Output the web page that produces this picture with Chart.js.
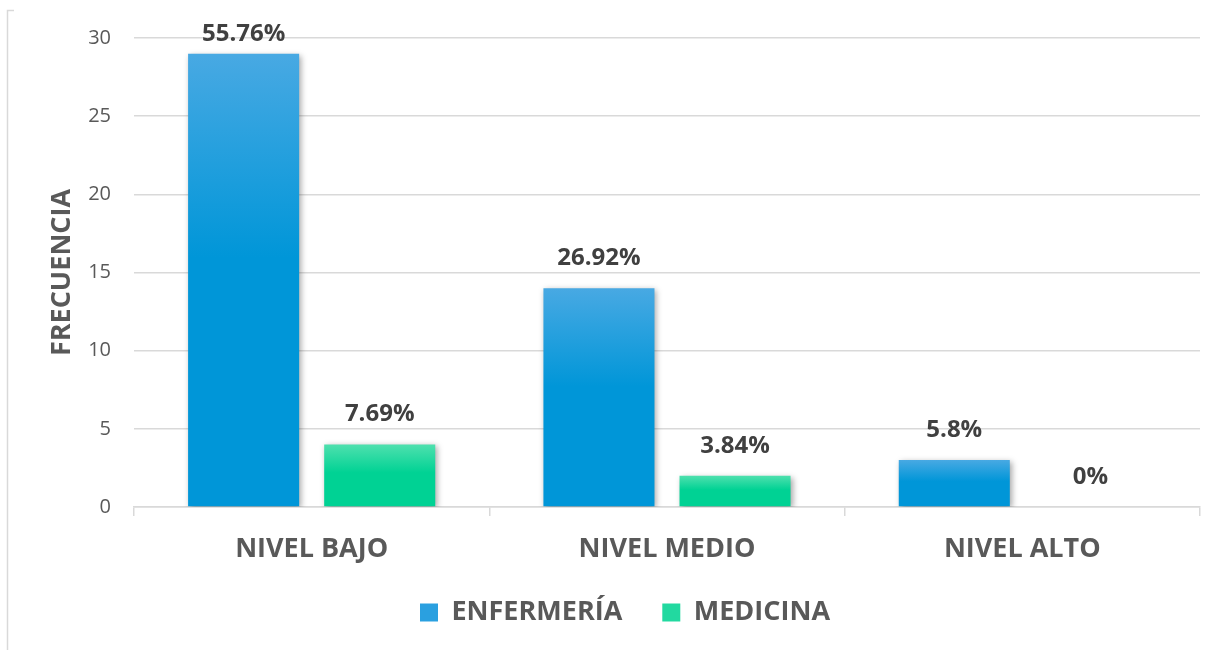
<!DOCTYPE html>
<html>
<head>
<meta charset="utf-8">
<script src="https://cdn.jsdelivr.net/npm/chart.js@4"></script>
<style>
  html, body { margin: 0; padding: 0; background: #fff; }
  #wrap { width: 1228px; height: 650px; }
</style>
</head>
<body>
<div id="wrap"><canvas id="chart" width="1228" height="650"></canvas></div>
<script>
// datos del gráfico
const niveles = ['NIVEL BAJO', 'NIVEL MEDIO', 'NIVEL ALTO'];
const enfermeria = [29, 14, 3];
const medicina = [4, 2, 0];
const etiquetasEnf = ['55.76%', '26.92%', '5.8%'];
const etiquetasMed = ['7.69%', '3.84%', '0%'];
const ticksY = [0, 5, 10, 15, 20, 25, 30];

const gris = '#595959';
const fuente = "'Open Sans', sans-serif";

// degradado por barra (arriba más claro)
function degradado(arriba, abajo) {
  return (ctx) => {
    const chart = ctx.chart;
    if (!chart.chartArea || ctx.raw === undefined) return abajo;
    const y = chart.scales.y;
    const top = y.getPixelForValue(ctx.raw);
    const bottom = y.getPixelForValue(0);
    if (bottom - top < 1) return abajo;
    const g = chart.ctx.createLinearGradient(0, top, 0, bottom);
    g.addColorStop(0, arriba);
    g.addColorStop(0.45, abajo);
    g.addColorStop(1, abajo);
    return g;
  };
}

// sombra suave en las barras
const sombra = {
  id: 'sombra',
  beforeDatasetDraw(chart) {
    const c = chart.ctx;
    c.save();
    c.shadowColor = 'rgba(0,0,0,0.35)';
    c.shadowBlur = 6;
    c.shadowOffsetX = 2;
    c.shadowOffsetY = 2;
  },
  afterDatasetDraw(chart) {
    chart.ctx.restore();
  }
};

// porcentajes encima de las barras
const etiquetas = {
  id: 'etiquetas',
  afterDatasetsDraw(chart) {
    const c = chart.ctx;
    c.save();
    c.font = 'bold 24px ' + fuente;
    c.fillStyle = '#404040';
    c.textAlign = 'center';
    c.textBaseline = 'middle';
    const textos = [etiquetasEnf, etiquetasMed];
    chart.data.datasets.forEach((ds, i) => {
      chart.getDatasetMeta(i).data.forEach((bar, j) => {
        const y = Math.max(bar.y - 30, 34);
        c.fillText(textos[i][j], bar.x, y);
      });
    });
    c.restore();
  }
};

// borde izquierdo del marco y leyenda un poco desplazada
const marco = {
  id: 'marco',
  afterLayout(chart) {
    const l = chart.legend;
    l.left += 25;
    l.right += 25;
    l.top -= 8;
    l.bottom -= 8;
  },
  beforeDraw(chart) {
    const c = chart.ctx;
    c.save();
    c.strokeStyle = '#d9d9d9';
    c.lineWidth = 1.5;
    c.beginPath();
    c.moveTo(14, 10.5);
    c.lineTo(7.5, 10.5);
    c.lineTo(7.5, 650);
    c.stroke();
    c.restore();
  }
};

new Chart(document.getElementById('chart'), {
  type: 'bar',
  data: {
    labels: niveles,
    datasets: [
      {
        label: 'ENFERMERÍA',
        data: enfermeria,
        backgroundColor: degradado('#48a9e3', '#0096d8'),
        categoryPercentage: 0.766,
        barPercentage: 0.816
      },
      {
        label: 'MEDICINA',
        data: medicina,
        backgroundColor: degradado('#4fe0ae', '#00d294'),
        categoryPercentage: 0.766,
        barPercentage: 0.816
      }
    ]
  },
  options: {
    responsive: false,
    animation: false,
    layout: { padding: { top: 38, right: 28, left: 0, bottom: 6 } },
    plugins: {
      tooltip: { enabled: false },
      legend: {
        position: 'bottom',
        labels: {
          color: gris,
          font: { family: fuente, size: 27, weight: 'bold' },
          boxWidth: 18,
          boxHeight: 18,
          padding: 40,
          generateLabels(chart) {
            const cols = ['#2aa0e0', '#22d9a0'];
            return chart.data.datasets.map((ds, i) => ({
              text: ds.label,
              fillStyle: cols[i],
              strokeStyle: cols[i],
              lineWidth: 0,
              datasetIndex: i,
              fontColor: gris
            }));
          }
        }
      }
    },
    scales: {
      x: {
        grid: {
          offset: true,
          drawOnChartArea: false,
          color: '#d9d9d9',
          tickLength: 9,
          lineWidth: 1.5
        },
        border: { color: '#d9d9d9', width: 1.5 },
        ticks: {
          color: gris,
          font: { family: fuente, size: 27, weight: 'bold' },
          padding: 17
        },
        afterFit(s) { s.height = 60; }
      },
      y: {
        min: 0,
        max: 30,
        afterBuildTicks(s) { s.ticks = ticksY.map(v => ({ value: v })); },
        grid: { color: '#d9d9d9', drawTicks: false, lineWidth: 1.5 },
        border: { display: false },
        ticks: {
          color: gris,
          font: { family: fuente, size: 20 },
          padding: 23
        },
        title: {
          display: true,
          text: 'FRECUENCIA',
          color: gris,
          font: { family: fuente, size: 27, weight: 'bold' },
          padding: { top: 46, bottom: 0 }
        },
        afterFit(s) { s.width = 134; }
      }
    }
  },
  plugins: [marco, sombra, etiquetas]
});
</script>
</body>
</html>
